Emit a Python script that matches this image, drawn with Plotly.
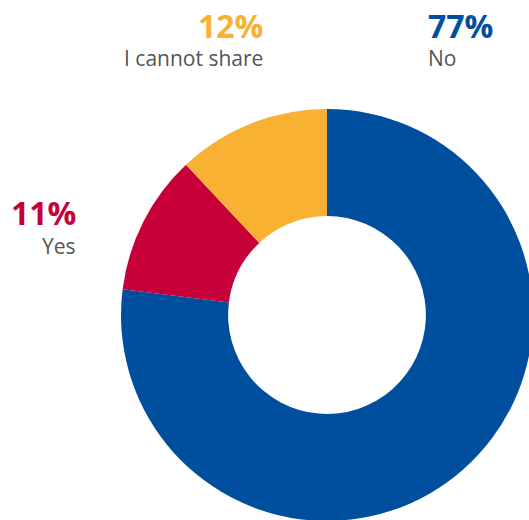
import plotly.graph_objects as go

categories = ["No", "Yes", "I cannot share"]
values = [77, 11, 12]
colors = ["#004f9f", "#c8003a", "#f8b133"]
pct_labels = ["77%", "11%", "12%"]

# figure slightly larger than the window so the donut bleeds past the right/bottom edge
W, H = 540, 530

fig = go.Figure()
fig.add_trace(go.Pie(
    labels=categories,
    values=values,
    sort=False,
    direction="clockwise",
    rotation=0,
    hole=0.48,
    marker=dict(colors=colors, line=dict(width=0)),
    textinfo="none",
    hoverinfo="label+percent",
    showlegend=False,
    domain=dict(x=[121 / W, 533 / W], y=[(H - 521) / H, (H - 109) / H]),
))

def px(x):
    return x / W

def py(y):
    return 1 - y / H

# (category index, x pixel, anchor, y of percent, y of label)
placements = [
    (0, 426, "left", 25.5, 58),
    (1, 78, "right", 212, 246.5),
    (2, 265, "right", 25.5, 58),
]
for idx, x, anchor, y_pct, y_lbl in placements:
    fig.add_annotation(
        x=px(x), y=py(y_pct), xref="paper", yref="paper",
        xanchor=anchor, yanchor="middle", showarrow=False,
        text="<b>" + pct_labels[idx] + "</b>",
        font=dict(family="Open Sans", size=32, color=colors[idx]),
    )
    fig.add_annotation(
        x=px(x), y=py(y_lbl), xref="paper", yref="paper",
        xanchor=anchor, yanchor="middle", showarrow=False,
        text=categories[idx],
        font=dict(family="Open Sans", size=21, color="#555555"),
    )

fig.update_layout(
    width=W, height=H,
    margin=dict(l=0, r=0, t=0, b=0),
    paper_bgcolor="white",
    plot_bgcolor="white",
)

fig.write_html(
    "out.html",
    config={"displayModeBar": False},
    post_script="document.body.style.margin='0';"
                "document.documentElement.style.overflow='hidden';"
                "document.body.style.overflow='hidden';",
)
